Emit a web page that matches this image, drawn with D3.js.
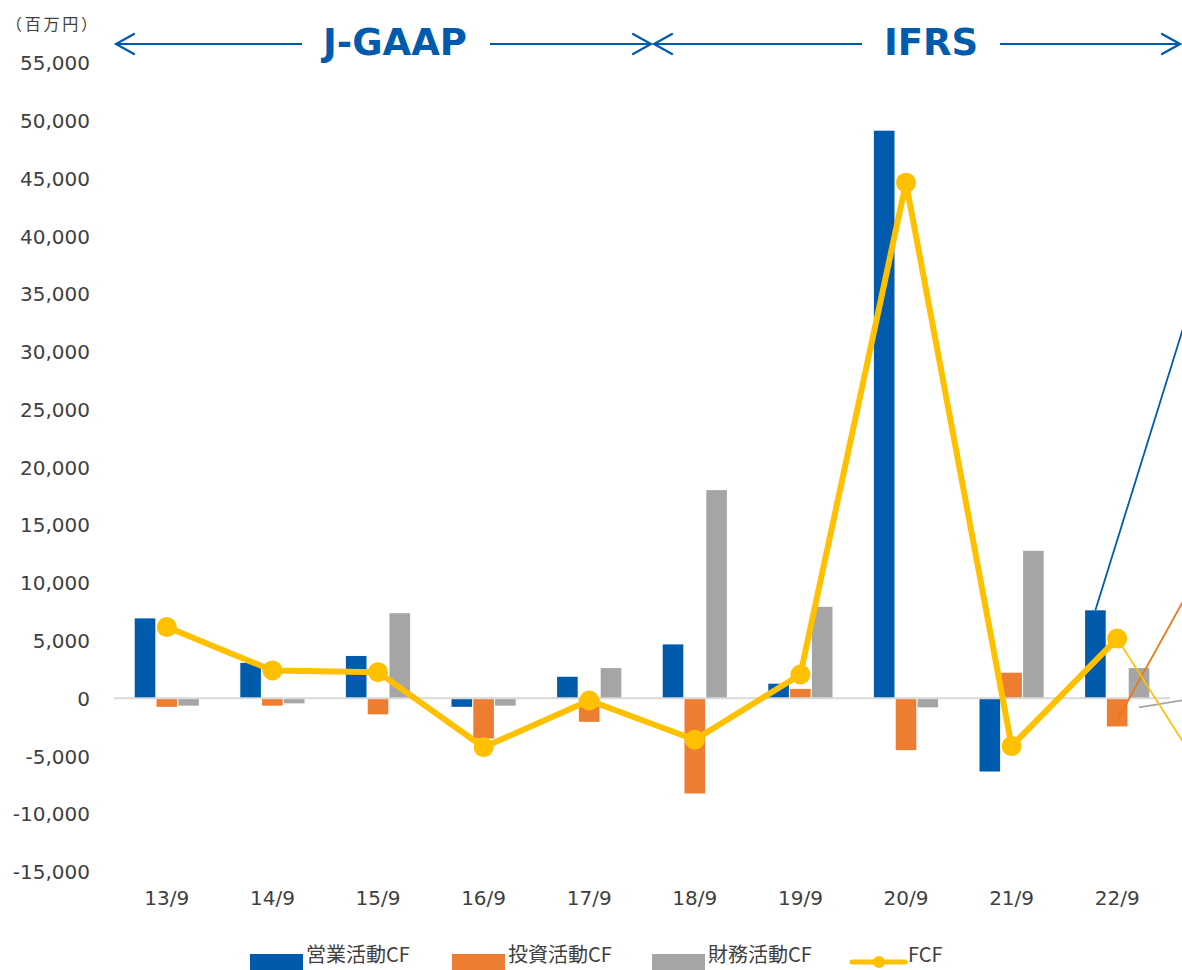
<!DOCTYPE html>
<html>
<head>
<meta charset="utf-8">
<script src="https://cdn.jsdelivr.net/npm/d3@7"></script>
<style>
  html, body { margin: 0; padding: 0; background: #fff; }
  svg { display: block; }
</style>
</head>
<body>
<svg id="chart" width="1182" height="970"></svg>
<script>
// Fiscal periods (year/month of fiscal year end)
const periods = ["13/9", "14/9", "15/9", "16/9", "17/9", "18/9", "19/9", "20/9", "21/9", "22/9"];

// Cash flows, millions of yen
const operatingCF = [6900, 3050, 3650, -750, 1850, 4650, 1250, 49100, -6350, 7600];
const investingCF = [-750, -650, -1400, -3500, -2050, -8250, 800, -4500, 2200, -2450];
const financingCF = [-650, -450, 7350, -650, 2600, 18000, 7900, -800, 12750, 2600];
const freeCF      = [6150, 2400, 2250, -4250, -200, -3600, 2050, 44600, -4150, 5150];

// Lines running on from the last period into the next one
const trendFrom = [7600, -1900, -800, 5150];
const trendNext = [37000, 14600, 700, -9200];

const seriesNames = ["営業活動CF", "投資活動CF", "財務活動CF", "FCF"];
const colors = ["#005BAC", "#ED7D31", "#A5A5A5", "#FFC000"];
const trendColors = ["#005BAC", "#EE7711", "#A5A5A5", "#FFC000"];

const yTicks = d3.range(-15000, 55001, 5000);
const unitLabel = "（百万円）";
const regimes = ["J-GAAP", "IFRS"];

const svg = d3.select("#chart");
const fontNum = "'DejaVu Sans', Verdana, sans-serif";
const fontJP = "'Noto Sans CJK JP', 'Noto Sans', sans-serif";

const plotLeft = 114, plotRight = 1170;
const x = d3.scaleBand().domain(periods).range([plotLeft, plotRight]).paddingInner(0).paddingOuter(0);
const y = d3.scaleLinear().domain([-15000, 55000]).range([871.5, 62.5]);

const barW = 20.6, barStep = 21.8;
const center = p => x(p) + x.bandwidth() / 2;

// Y axis labels (plain hyphen for negatives)
const fmt = d3.format(",");
const yAxis = d3.axisLeft(y).tickValues(yTicks)
  .tickFormat(d => fmt(d).replace("\u2212", "-")).tickSize(0).tickPadding(0);
const yg = svg.append("g").attr("transform", "translate(90,0)").call(yAxis);
yg.select(".domain").remove();
yg.selectAll("text")
  .attr("font-family", fontNum).attr("font-size", 20).attr("fill", "#404040")
  .attr("dy", "0.36em");

// X axis labels
const xAxis = d3.axisBottom(x).tickSize(0).tickPadding(0);
const xg = svg.append("g").attr("transform", "translate(0,890)").call(xAxis);
xg.select(".domain").remove();
xg.selectAll("text")
  .attr("font-family", fontNum).attr("font-size", 20).attr("fill", "#404040")
  .attr("dy", "0.75em");

// Unit label
svg.append("text").attr("x", 6).attr("y", 30)
  .attr("font-family", fontJP).attr("font-size", 16).attr("fill", "#404040")
  .attr("textLength", 91).attr("lengthAdjust", "spacing")
  .text(unitLabel);

// Bars
const barSeries = [operatingCF, investingCF, financingCF];
const bars = svg.append("g");
barSeries.forEach((vals, s) => {
  bars.selectAll(null).data(vals).enter().append("rect")
    .attr("x", (d, i) => center(periods[i]) + (s - 1) * barStep - barW / 2)
    .attr("width", barW)
    .attr("y", d => Math.min(y(d), y(0)))
    .attr("height", d => Math.abs(y(d) - y(0)))
    .attr("fill", colors[s]);
});

// Zero line
svg.append("line")
  .attr("x1", plotLeft).attr("x2", plotRight)
  .attr("y1", y(0)).attr("y2", y(0))
  .attr("stroke", "#D9D9D9").attr("stroke-width", 2);

// Lines into the next period
const last = periods[periods.length - 1];
const offsets = [-1, 0, 1, 0];
trendFrom.forEach((v, s) => {
  const x0 = center(last) + offsets[s] * barStep;
  const x1 = x0 + x.step();
  svg.append("line")
    .attr("x1", x0).attr("y1", y(v))
    .attr("x2", x1).attr("y2", y(trendNext[s]))
    .attr("stroke", trendColors[s]).attr("stroke-width", 1.8);
});

// FCF line with markers
const line = d3.line().x((d, i) => center(periods[i])).y(d => y(d));
svg.append("path").datum(freeCF)
  .attr("d", line).attr("fill", "none")
  .attr("stroke", colors[3]).attr("stroke-width", 6).attr("stroke-linejoin", "round");
svg.selectAll(null).data(freeCF).enter().append("circle")
  .attr("cx", (d, i) => center(periods[i])).attr("cy", d => y(d))
  .attr("r", 10).attr("fill", colors[3]);

// Accounting standard headers with arrows
const hdr = svg.append("g").attr("stroke", "#005BAC").attr("stroke-width", 2.2).attr("fill", "none");
const arrowY = 44;
function arrowHead(tipX, dir) {
  hdr.append("path")
    .attr("d", `M${tipX - dir * 18},${arrowY - 10} L${tipX},${arrowY} L${tipX - dir * 18},${arrowY + 10}`)
    .attr("stroke-linecap", "round").attr("stroke-linejoin", "miter");
}
const seg = (a, b) => hdr.append("line").attr("x1", a).attr("x2", b).attr("y1", arrowY).attr("y2", arrowY);
const junction = 652;
seg(116, 302); arrowHead(116, -1);
seg(490, junction - 1); arrowHead(junction - 1, 1);
seg(junction + 2, 862); arrowHead(junction + 2, -1);
seg(1000, 1180); arrowHead(1180, 1);

svg.append("text").attr("x", 395).attr("y", 55).attr("text-anchor", "middle")
  .attr("font-family", fontNum).attr("font-weight", "bold").attr("font-size", 37).attr("fill", "#005BAC")
  .text(regimes[0]);
svg.append("text").attr("x", 931).attr("y", 55).attr("text-anchor", "middle")
  .attr("font-family", fontNum).attr("font-weight", "bold").attr("font-size", 37).attr("fill", "#005BAC")
  .text(regimes[1]);

// Legend
const legendItems = [
  { x: 250, name: seriesNames[0], color: colors[0], type: "bar" },
  { x: 452, name: seriesNames[1], color: colors[1], type: "bar" },
  { x: 652, name: seriesNames[2], color: colors[2], type: "bar" },
  { x: 852, name: seriesNames[3], color: colors[3], type: "line" }
];
const lg = svg.append("g");
legendItems.forEach(it => {
  if (it.type === "bar") {
    lg.append("rect").attr("x", it.x).attr("y", 954).attr("width", 53).attr("height", 16).attr("fill", it.color);
  } else {
    lg.append("line").attr("x1", it.x).attr("x2", it.x + 53).attr("y1", 962).attr("y2", 962)
      .attr("stroke", it.color).attr("stroke-width", 5).attr("stroke-linecap", "round");
    lg.append("circle").attr("cx", it.x + 27).attr("cy", 962).attr("r", 6).attr("fill", it.color);
  }
  lg.append("text").attr("x", it.x + 56).attr("y", 962)
    .attr("font-family", fontJP).attr("font-size", 20).attr("fill", "#404040")
    .text(it.name);
});
</script>
</body>
</html>
